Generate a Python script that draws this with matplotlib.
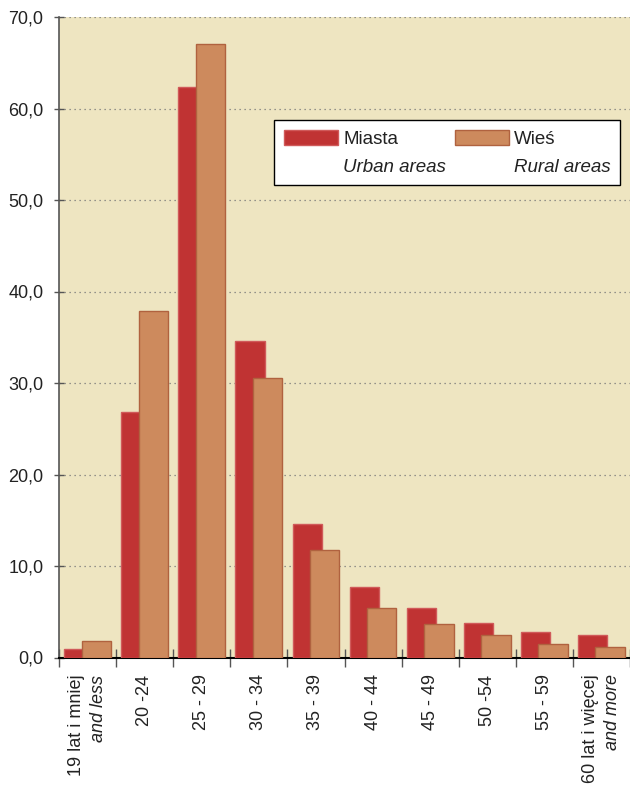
import numpy as np
import matplotlib
matplotlib.use("Agg")
import matplotlib.pyplot as plt
from matplotlib.patches import Rectangle
from matplotlib.transforms import offset_copy


# =========================================================
# DATA
# =========================================================

age_groups = ["19 lat i mniej", "20 -24", "25 - 29", "30 - 34", "35 - 39",
              "40 - 44", "45 - 49", "50 -54", "55 - 59", "60 lat i więcej"]
age_groups_en = ["and less", "", "", "", "", "", "", "", "", "and more"]

miasta = [0.9, 26.8, 62.4, 34.6, 14.6, 7.7, 5.4, 3.8, 2.8, 2.5]
wies = [1.8, 37.9, 67.0, 30.5, 11.7, 5.4, 3.7, 2.5, 1.5, 1.2]

y_ticks = [0, 10, 20, 30, 40, 50, 60, 70]

series_labels = ["Miasta", "Urban areas", "Wieś", "Rural areas"]


# =========================================================
# STYLE
# =========================================================

plt.rcParams["font.family"] = ["Liberation Sans", "DejaVu Sans"]

BG = "#EEE5C1"
RED = "#C03333"
RED_EDGE = "#D05A5A"
TAN = "#CD8A5D"
TAN_EDGE = "#B0623F"


# =========================================================
# PLOT
# =========================================================

fig = plt.figure(figsize=(6.3, 7.86), dpi=100)
ax = fig.add_axes([59 / 630, 1 - 657.5 / 786, 571 / 630, 640.5 / 786])
ax.set_facecolor(BG)

x = np.arange(len(age_groups))
width = 0.515

ax.bar(x - 0.152, miasta, width=width, color=RED, edgecolor=RED_EDGE,
       linewidth=1, zorder=3)
ax.bar(x + 0.152, wies, width=width, color=TAN, edgecolor=TAN_EDGE,
       linewidth=1, zorder=4)

ax.set_xlim(-0.5, len(age_groups) - 0.5)
ax.set_ylim(0, 70)

# y axis
ax.set_yticks(y_ticks)
ax.set_yticklabels([f"{v:.1f}".replace(".", ",") for v in y_ticks])
ax.tick_params(axis="y", direction="inout", length=6.5, width=1,
               color="#555555", pad=8, labelsize=13, labelcolor="#222222")
ax.yaxis.grid(True, linestyle=(0, (1, 3)), color="#777777", linewidth=0.9)
ax.set_axisbelow(True)

# x axis: tick marks at category boundaries, labels drawn separately
ax.set_xticks(np.arange(len(age_groups) + 1) - 0.5)
ax.set_xticklabels([])
ax.tick_params(axis="x", direction="inout", length=13.5, width=1,
               color="#555555")

for side in ["top", "right"]:
    ax.spines[side].set_visible(False)
ax.spines["left"].set_color("#555555")
ax.spines["left"].set_linewidth(1.2)
ax.spines["bottom"].set_color("black")
ax.spines["bottom"].set_linewidth(1.5)

base = ax.get_xaxis_transform()
for i, (pl, en) in enumerate(zip(age_groups, age_groups_en)):
    if en:
        t1 = offset_copy(base, fig=fig, x=-11, y=-17, units="dots")
        t2 = offset_copy(base, fig=fig, x=11, y=-17, units="dots")
        ax.text(i, 0, pl, transform=t1, rotation=90, ha="center", va="top",
                fontsize=13, color="#222222")
        ax.text(i, 0, en, transform=t2, rotation=90, ha="center", va="top",
                fontsize=13, style="italic", color="#222222")
    else:
        t1 = offset_copy(base, fig=fig, x=0, y=-17, units="dots")
        ax.text(i, 0, pl, transform=t1, rotation=90, ha="center", va="top",
                fontsize=13, color="#222222")

# legend: two columns, Polish label on top, English italic below
blank = Rectangle((0, 0), 1, 1, facecolor="none", edgecolor="none")
handles = [Rectangle((0, 0), 1, 1, facecolor=RED, edgecolor=RED_EDGE),
           blank,
           Rectangle((0, 0), 1, 1, facecolor=TAN, edgecolor=TAN_EDGE),
           blank]
leg = ax.legend(handles, series_labels, ncol=2, loc="center",
                bbox_to_anchor=(0.680, 0.7877), borderaxespad=0,
                fontsize=13.5, frameon=True, fancybox=False,
                handlelength=2.9, handleheight=0.85, handletextpad=0.28,
                columnspacing=0.45, labelspacing=0.55, borderpad=0.5)
leg.get_frame().set_edgecolor("black")
leg.get_frame().set_linewidth(1)
leg.get_frame().set_facecolor("white")
leg.get_frame().set_alpha(1)
for t in leg.get_texts():
    t.set_color("#222222")
leg.get_texts()[1].set_style("italic")
leg.get_texts()[3].set_style("italic")
leg.set_zorder(10)

fig.savefig("out.png", dpi=100)
